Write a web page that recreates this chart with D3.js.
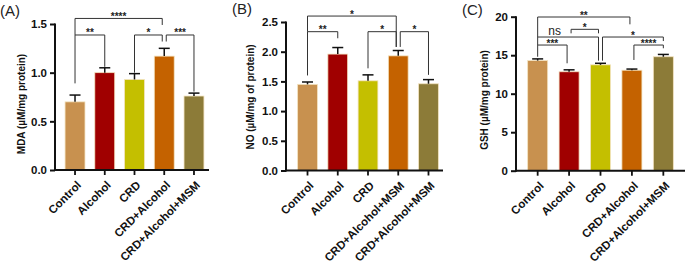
<!DOCTYPE html>
<html><head><meta charset="utf-8">
<script src="https://cdn.jsdelivr.net/npm/d3@7"></script>
<style>body{margin:0;background:#fff}svg{display:block}</style>
</head><body>
<svg id="c" width="685" height="263"></svg>
<script>
// ---------- data ----------
const categoriesA = ["Control","Alcohol","CRD","CRD+Alcohol","CRD+Alcohol+MSM"];
const categoriesB = ["Control","Alcohol","CRD","CRD+Alcohol+MSM","CRD+Alcohol+MSM"];
const categoriesC = ["Control","Alcohol","CRD","CRD+Alcohol","CRD+Alcohol+MSM"];
const barColors = ["#C8914F","#A00000","#C4BF00","#C46200","#8C7B38"];

const mdaMean = [0.70, 1.00, 0.93, 1.17, 0.76];
const mdaErr  = [0.07, 0.05, 0.06, 0.08, 0.03];
const noMean  = [1.45, 1.96, 1.51, 1.93, 1.46];
const noErr   = [0.04, 0.11, 0.10, 0.09, 0.07];
const gshMean = [14.30, 12.85, 13.75, 13.05, 14.80];
const gshErr  = [0.22, 0.25, 0.20, 0.15, 0.30];

const ticksA = [0.0, 0.5, 1.0, 1.5];
const ticksB = [0.0, 0.5, 1.0, 1.5, 2.0, 2.5];
const ticksC = [0, 5, 10, 15, 20];

// significance brackets: [groupFrom, groupTo, level, leftLegEnd, rightLegEnd, label]  (values in data units)
const sigA = [
  [0, 3, 1.557, 1.387, 1.49, "****"],
  [0, 1, 1.387, 0.89, 1.06, "**"],
  [2, 3, 1.387, 1.00, 1.32, "*"],
  [3, 4, 1.387, 1.32, 0.805, "***"]
];
const sigB = [
  [0, 3, 2.60, 2.337, 2.08, "*"],
  [0, 1, 2.337, 1.60, 2.226, "**"],
  [2, 3, 2.337, 1.72, 2.08, "*"],
  [3, 4, 2.337, 2.08, 1.61, "*"]
];
const sigC = [
  [0, 3, 19.96, 17.36, 19.01, "**"],
  [0, 2, 17.36, 16.32, 14.29, "ns"],
  [1, 2, 18.36, 17.84, 17.84, "*"],
  [2, 4, 17.36, 14.29, 16.84, "*"],
  [3, 4, 16.32, 14.38, 15.90, "****"],
  [0, 1, 16.32, 14.80, 13.95, "***"]
];

// ---------- drawing ----------
const svg = d3.select("#c");
const FONT = "Liberation Sans, Arial, Helvetica, sans-serif";

function panel(o){
  const g = svg.append("g");
  const idx = d3.range(o.cats.length);
  const x = d3.scaleBand().domain(idx).range(o.xr).paddingInner(o.pi).paddingOuter(o.po);
  const y = d3.scaleLinear().domain([0, o.max]).range([o.y0, o.y1]);
  const cx = i => x(i) + x.bandwidth()/2;

  // bars
  g.selectAll("rect.bar").data(o.mean).join("rect")
    .attr("x", (d,i)=>x(i)).attr("width", x.bandwidth())
    .attr("y", d=>y(d)).attr("height", d=>y(0)-y(d))
    .attr("fill", (d,i)=>barColors[i])
    .attr("stroke", "#f3e3c0").attr("stroke-width", 0.8);

  // error bars
  o.mean.forEach((m,i)=>{
    const t = y(m + o.err[i]);
    g.append("line").attr("x1",cx(i)).attr("x2",cx(i)).attr("y1",y(m)).attr("y2",t)
      .attr("stroke","#111").attr("stroke-width",1.5);
    g.append("line").attr("x1",cx(i)-5.5).attr("x2",cx(i)+5.5).attr("y1",t).attr("y2",t)
      .attr("stroke","#111").attr("stroke-width",1.5);
  });

  // y axis
  const ya = d3.axisLeft(y).tickValues(o.ticks).tickSize(5).tickPadding(3)
    .tickFormat(o.fmt);
  const yg = g.append("g").attr("transform",`translate(${o.ax},0)`).call(ya);
  yg.select(".domain").remove();
  yg.append("line").attr("x1",0).attr("x2",0).attr("y1",y(0)+1).attr("y2",y(o.max)-0.5)
    .attr("stroke","#111").attr("stroke-width",2);
  yg.selectAll(".tick line").attr("stroke","#111").attr("stroke-width",2);
  yg.selectAll(".tick text").attr("font-family",FONT).attr("font-weight","bold")
    .attr("font-size",11.5).attr("fill","#111");

  // x axis
  g.append("line").attr("x1",o.ax-1).attr("x2",o.xend).attr("y1",y(0)).attr("y2",y(0))
    .attr("stroke","#111").attr("stroke-width",2);
  idx.forEach(i=>{
    g.append("line").attr("x1",cx(i)).attr("x2",cx(i)).attr("y1",y(0)).attr("y2",y(0)+5)
      .attr("stroke","#111").attr("stroke-width",1.8);
    g.append("text").attr("transform",`translate(${cx(i)+4},${y(0)+13}) rotate(-45)`)
      .attr("text-anchor","end").attr("dy","0.35em")
      .attr("font-family",FONT).attr("font-weight","bold").attr("font-size",11.5)
      .attr("fill","#111").text(o.cats[i]);
  });

  // y title
  g.append("text").attr("transform",`translate(${o.tx},${o.ty}) rotate(-90)`)
    .attr("text-anchor","middle").attr("font-family",FONT).attr("font-weight","bold")
    .attr("font-size",10).attr("fill","#111").text(o.title);

  // panel label
  g.append("text").attr("x",o.lx).attr("y",o.ly).attr("font-family",FONT)
    .attr("font-size",15).attr("fill","#222").text(o.label);

  // significance brackets
  o.sig.forEach(s=>{
    const [a,b,lev,le,re,lab] = s;
    const shareR = o.sig.some(t=>t!==s && t[0]===b);
    const shareL = o.sig.some(t=>t!==s && t[1]===a);
    const xa = cx(a) + (shareL?2:0);
    const xb = cx(b) - (shareR?2:0);
    const yl = y(lev);
    g.append("path").attr("d",`M${xa},${y(le)}V${yl}H${xb}V${y(re)}`)
      .attr("fill","none").attr("stroke","#333").attr("stroke-width",1);
    const t = g.append("text").attr("x",(xa+xb)/2).attr("text-anchor","middle")
      .attr("font-family",FONT).attr("fill","#222");
    if(lab==="ns"){
      t.attr("x", xa + 17).attr("y", yl-2.5).attr("font-size",12).text(lab);
    } else {
      t.attr("y", yl+1.5).attr("font-size",10).attr("font-weight","bold").text(lab);
    }
  });
}

panel({cats:categoriesA, mean:mdaMean, err:mdaErr, ticks:ticksA, max:1.5, fmt:d3.format(".1f"),
  xr:[60,209], pi:0.33, po:0.17, y0:170, y1:24, ax:55, xend:209,
  title:"MDA (µM/mg protein)", tx:25, ty:104, label:"(A)", lx:0, ly:16, sig:sigA});
panel({cats:categoriesB, mean:noMean, err:noErr, ticks:ticksB, max:2.5, fmt:d3.format(".1f"),
  xr:[292,444], pi:0.346, po:0.186, y0:170.5, y1:22, ax:286, xend:443,
  title:"NO (µM/mg of protein)", tx:254, ty:97, label:"(B)", lx:232, ly:14, sig:sigB});
panel({cats:categoriesC, mean:gshMean, err:gshErr, ticks:ticksC, max:20, fmt:d3.format("d"),
  xr:[522,679], pi:0.363, po:0.18, y0:170.7, y1:16.7, ax:516, xend:685,
  title:"GSH (µM/mg protein)", tx:488, ty:100, label:"(C)", lx:462, ly:15, sig:sigC});
</script>
</body></html>
